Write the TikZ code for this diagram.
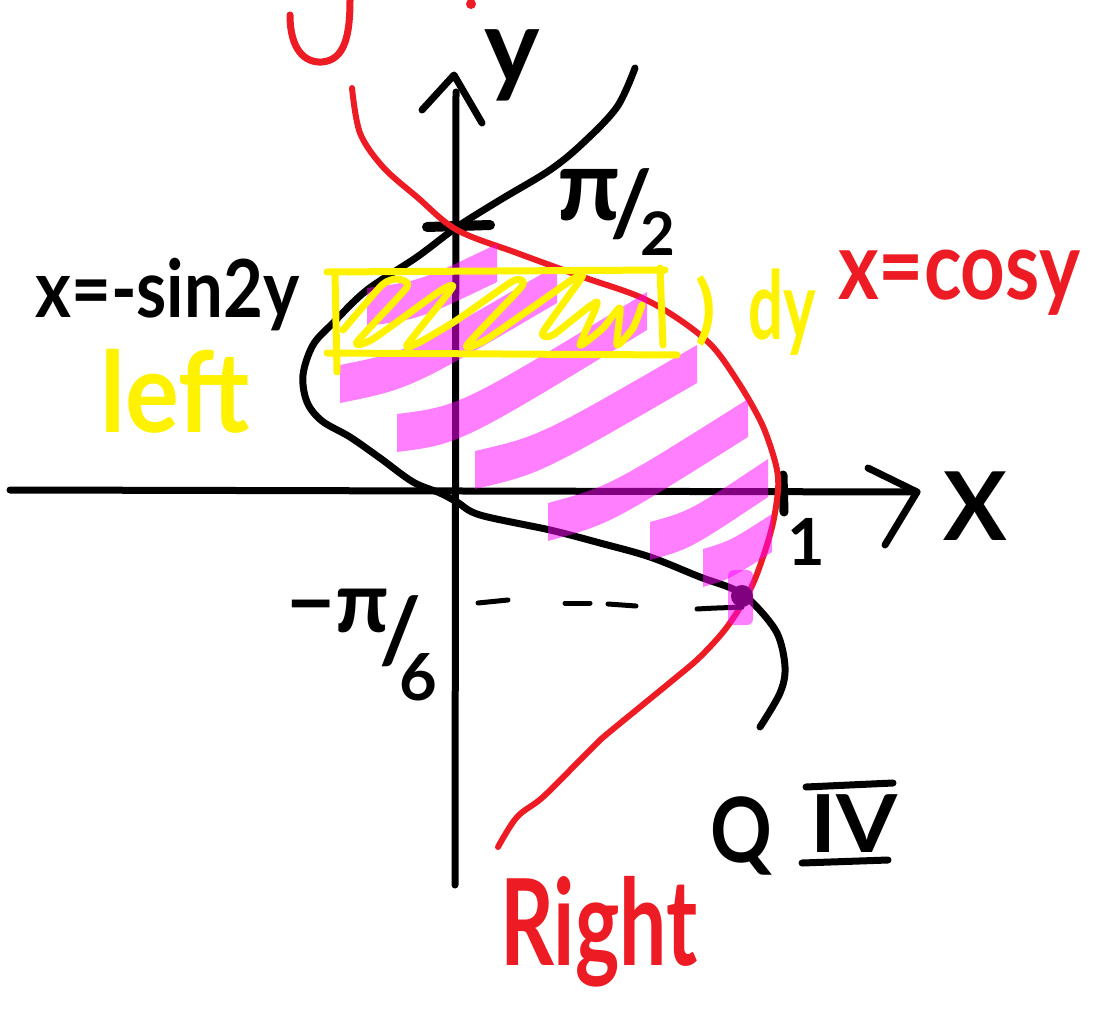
\documentclass[tikz,border=0pt]{standalone}
\usepackage{fontspec}
\usepackage{graphicx}
\setmainfont{Lato}
\definecolor{penred}{HTML}{ED1C24}
\definecolor{penyel}{HTML}{FFF200}
\definecolor{hlmag}{RGB}{255,0,255}
\newcommand\hlband[6]{\fill[hl] (#1,#2-19) .. controls (#3,#4-19) .. (#5,#6-19) -- (#5,#6+19) .. controls (#3,#4+19) .. (#1,#2+19) -- cycle;}
\newcommand\fsz[1]{\fontsize{#1}{#1}\selectfont}
\begin{document}
\begin{tikzpicture}[x=1pt,y=-1pt,line cap=round,line join=round,
  axis/.style={line width=7pt,black},
  blackink/.style={line width=7pt,black},
  redink/.style={line width=6pt,penred},
  yelink/.style={line width=7pt,penyel},
  hl/.style={fill=hlmag,fill opacity=0.5},
  lbl/.style={inner sep=0pt,font=\bfseries}]
\useasboundingbox (0,0) rectangle (1103,1032);

% axes
\coordinate (xl) at (10,490);
\coordinate (xr) at (917,492);
\coordinate (yb) at (455,885);
\coordinate (yt) at (454,75);
\draw[axis] (xl) -- (xr);
\draw[axis] (868,468) -- (xr) -- (885,545);
\draw[axis] (yb) -- (456,92);
\draw[axis] (422,110) -- (yt) -- (482,123);

% ticks
\draw[black,line width=10pt] (427,227) -- (490,225);
\draw[black,line width=9pt] (783,475) -- (784,512);

% black curve x = -sin 2y
\draw[blackink] plot[smooth,tension=0.55] coordinates {(635,68) (617,107) (583,143) (550,170) (500,200) (457,227) (417,257) (367,290) (333,323) (313,345) (303,375) (307,402) (322,421) (350,437) (380,458) (413,482) (440,493) (457,502) (480,515) (550,530) (600,543) (650,557) (700,577) (733,589) (753,603) (777,633) (785,667) (780,693) (760,727)};

% red curve x = cos y
\draw[redink] plot[smooth,tension=0.55] coordinates {(352,88) (360,133) (383,167) (417,197) (457,230) (517,253) (583,277) (640,297) (680,320) (713,347) (740,385) (760,420) (770,445) (777,470) (778,490) (773,523) (763,557) (750,590) (727,627) (700,657) (673,680) (640,707) (600,740) (583,757) (543,797) (517,817) (498,847)};

% red fragment at top
\draw[redink,line width=7pt] (290,15) .. controls (290,50) and (305,63) .. (322,62) .. controls (345,60) and (350,35) .. (350,0);
\fill[penred] (471,4) circle[radius=5];

% dashed level line
\node[circle,fill=black,minimum size=22pt,inner sep=0pt] (pt) at (742,596) {};
\draw[black,line width=5pt] (478,603) -- (508,600);
\draw[black,line width=5pt] (565,603) -- (590,603);
\draw[black,line width=5pt] (608,604) -- (636,606);
\draw[black,line width=5pt] (697,609) .. controls (715,608) .. (pt.south);

% highlighter bands
\hlband{367}{307}{420}{300}{497}{263}
\hlband{340}{384}{410}{370}{557}{284}
\hlband{397}{433}{460}{425}{647}{311}
\hlband{475}{470}{540}{455}{697}{364}
\hlband{548}{522}{610}{505}{748}{418}
\hlband{650}{541}{690}{530}{768}{478}
\hlband{703}{568}{730}{560}{772}{533}
\fill[hl,rounded corners=6pt] (728,570) rectangle (753,625);

% yellow strip
\draw[yelink] (327,272) -- (665,270);
\draw[yelink] (660,268) -- (663,345);
\draw[yelink] (327,353) -- (677,355);
\draw[yelink] (335,273) -- (337,372);
\draw[yelink] plot[smooth,tension=0.35] coordinates {(343,330) (382,285) (397,279) (407,287) (357,342) (373,339) (440,291) (452,288) (407,345) (420,342) (457,320) (513,281) (522,286) (467,345) (487,339) (573,279) (582,277) (543,332) (553,335) (597,302) (580,345) (603,328) (620,308) (617,345) (633,328) (642,305)};

% labels
\node[lbl,anchor=base] (ylab) at (512,84) {\fsz{105}y};
\node[lbl,anchor=base] (xlab) at (975,540) {\fsz{95}X};
\node[lbl,anchor=base] (one) at (806,565) {\fsz{65}1};
\node[lbl] (pihalf) at (616,212) {\fsz{100}π\kern-0.1em\raisebox{-0.15em}{\fsz{90}/}\kern-0.12em\raisebox{-0.35em}{\fsz{60}2}};
\node[lbl] (pisixth) at (362,645) {\fsz{85}−π\kern-0.12em\raisebox{-0.35em}{\fsz{90}/}\kern-0.25em\raisebox{-0.8em}{\fsz{65}6}};
\node[lbl,anchor=base west] (lblsin) at (35,318) {\fsz{80}\scalebox{0.86}[1]{x=-sin2y}};
\node[lbl,anchor=base west,text=penred] (lblcos) at (838,300) {\fsz{95}\scalebox{0.82}[1]{x=cosy}};
\node[lbl,anchor=base west,text=penyel] (lblleft) at (100,432) {\fsz{112}\scalebox{0.9}[1]{left}};
\node[lbl,text=penyel] (paren) at (706,311) {\fsz{75})};
\node[lbl,anchor=base west,text=penyel] (lbldy) at (748,340) {\fsz{95}\scalebox{0.65}[1]{dy}};
\node[lbl,anchor=base west,text=penred] (lblright) at (500,965) {\fsz{120}\scalebox{0.7}[1]{Right}};
\node[lbl,anchor=base west] (lblq) at (710,862) {\fsz{90}\scalebox{0.85}[1]{Q}};
\node[lbl,anchor=base west] (lbliv) at (810,852) {\fsz{80}\scalebox{1.1}[1]{IV}};
\draw[black,line width=7pt] (806,787) -- (893,783);
\draw[black,line width=7pt] (802,863) -- (888,860);
\end{tikzpicture}
\end{document}
